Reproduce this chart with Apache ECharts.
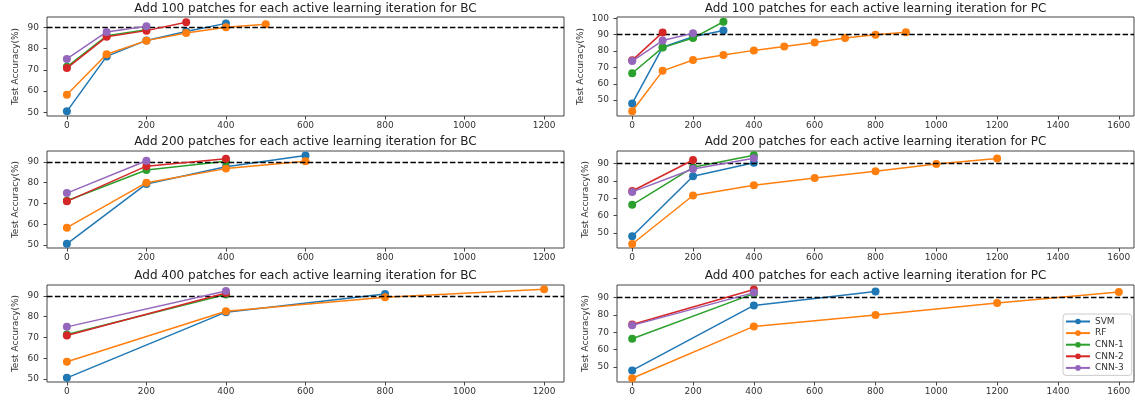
<!DOCTYPE html>
<html>
<head>
<meta charset="utf-8">
<script src="https://cdn.jsdelivr.net/npm/echarts@6/dist/echarts.min.js"></script>
<style>
  html, body { margin: 0; padding: 0; background: #fff; }
  #chart { width: 1135px; height: 402px; }
</style>
</head>
<body>
<div id="chart"></div>
<script>
const methods = ['SVM', 'RF', 'CNN-1', 'CNN-2', 'CNN-3']
const colors = ['#1f77b4', '#ff7f0e', '#2ca02c', '#d62728', '#9467bd']
const threshold = 90

// BC, 100 patches per iteration
const bc100X = [0, 100, 200, 300, 400, 500]
const bc100Svm = [50.5, 76.3, 83.8, 88.0, 91.8]
const bc100Rf = [58.3, 77.3, 83.7, 87.3, 90.0, 91.4]
const bc100Cnn1 = [71.4, 86.0, 88.8]
const bc100Cnn2 = [70.8, 85.5, 88.4, 92.3]
const bc100Cnn3 = [75.1, 87.8, 90.5]

// BC, 200 patches
const bc200X = [0, 200, 400, 600]
const bc200Svm = [50.5, 79.4, 87.7, 93.1]
const bc200Rf = [58.3, 80.0, 86.8, 90.4]
const bc200Cnn1 = [71.3, 86.1, 90.3]
const bc200Cnn2 = [71.0, 88.0, 91.6]
const bc200Cnn3 = [75.0, 90.6]

// BC, 400 patches
const bc400X = [0, 400, 800, 1200]
const bc400Svm = [50.5, 82.2, 91.0]
const bc400Rf = [58.3, 82.6, 89.4, 93.2]
const bc400Cnn1 = [71.4, 90.7]
const bc400Cnn2 = [70.9, 91.4]
const bc400Cnn3 = [75.1, 92.4]

// PC, 100 patches
const pc100X = [0, 100, 200, 300, 400, 500, 600, 700, 800, 900]
const pc100Svm = [48.0, 82.3, 88.7, 92.5]
const pc100Rf = [43.2, 67.9, 74.5, 77.6, 80.4, 82.7, 85.2, 87.9, 90.0, 91.5]
const pc100Cnn1 = [66.4, 82.1, 87.9, 97.9]
const pc100Cnn2 = [74.3, 91.4]
const pc100Cnn3 = [73.9, 86.4, 90.9]

// PC, 200 patches
const pc200X = [0, 200, 400, 600, 800, 1000, 1200]
const pc200Svm = [48.1, 82.7, 90.5]
const pc200Rf = [43.6, 71.6, 77.5, 81.7, 85.6, 89.8, 92.9]
const pc200Cnn1 = [66.2, 87.9, 94.8]
const pc200Cnn2 = [74.2, 92.1]
const pc200Cnn3 = [73.7, 86.9, 93.1]

// PC, 400 patches
const pc400X = [0, 400, 800, 1200, 1600]
const pc400Svm = [48.0, 85.5, 93.6]
const pc400Rf = [43.5, 73.4, 80.0, 86.9, 93.2]
const pc400Cnn1 = [66.3, 92.3]
const pc400Cnn2 = [74.5, 94.7]
const pc400Cnn3 = [74.0, 92.9]

const xTicksBC = [0, 200, 400, 600, 800, 1000, 1200]
const xTicksPC = [0, 200, 400, 600, 800, 1000, 1200, 1400, 1600]
const yTicks = [50, 60, 70, 80, 90]
const yTicksTop = [50, 60, 70, 80, 90, 100]

const panels = [
  { title: 'Add 100 patches for each active learning iteration for BC', x: bc100X,
    ys: [bc100Svm, bc100Rf, bc100Cnn1, bc100Cnn2, bc100Cnn3],
    xTicks: xTicksBC, yTicks: yTicks, xr: [-50, 1250], yr: [48.3, 94.8],
    pos: { left: 47, top: 17, width: 517, height: 99 }, titleTop: 3, nameGap: 27 },
  { title: 'Add 200 patches for each active learning iteration for BC', x: bc200X,
    ys: [bc200Svm, bc200Rf, bc200Cnn1, bc200Cnn2, bc200Cnn3],
    xTicks: xTicksBC, yTicks: yTicks, xr: [-50, 1250], yr: [48.5, 95.3],
    pos: { left: 47, top: 151, width: 517, height: 97 }, titleTop: 136, nameGap: 27 },
  { title: 'Add 400 patches for each active learning iteration for BC', x: bc400X,
    ys: [bc400Svm, bc400Rf, bc400Cnn1, bc400Cnn2, bc400Cnn3],
    xTicks: xTicksBC, yTicks: yTicks, xr: [-50, 1250], yr: [48.5, 95.3],
    pos: { left: 47, top: 285, width: 517, height: 97 }, titleTop: 270, nameGap: 27 },
  { title: 'Add 100 patches for each active learning iteration for PC', x: pc100X,
    ys: [pc100Svm, pc100Rf, pc100Cnn1, pc100Cnn2, pc100Cnn3],
    xTicks: xTicksPC, yTicks: yTicksTop, xr: [-50, 1650], yr: [40.3, 100.8],
    pos: { left: 617, top: 17, width: 517, height: 99 }, titleTop: 3, nameGap: 32 },
  { title: 'Add 200 patches for each active learning iteration for PC', x: pc200X,
    ys: [pc200Svm, pc200Rf, pc200Cnn1, pc200Cnn2, pc200Cnn3],
    xTicks: xTicksPC, yTicks: yTicks, xr: [-50, 1650], yr: [41.3, 97.3],
    pos: { left: 617, top: 151, width: 517, height: 97 }, titleTop: 136, nameGap: 27 },
  { title: 'Add 400 patches for each active learning iteration for PC', x: pc400X,
    ys: [pc400Svm, pc400Rf, pc400Cnn1, pc400Cnn2, pc400Cnn3],
    xTicks: xTicksPC, yTicks: yTicks, xr: [-50, 1650], yr: [41.3, 97.3],
    pos: { left: 617, top: 285, width: 517, height: 97 }, titleTop: 270, nameGap: 27 }
]

const font = 'DejaVu Sans'
const chart = echarts.init(document.getElementById('chart'), null, { renderer: 'canvas' })

const grid = panels.map(p => Object.assign({ show: true, borderColor: '#444', borderWidth: 1, backgroundColor: '#fff' }, p.pos))
const title = panels.map(p => ({
  text: p.title,
  left: p.pos.left + p.pos.width / 2,
  top: p.titleTop,
  textAlign: 'center',
  padding: 0,
  textStyle: { fontFamily: font, fontSize: 12, fontWeight: 'normal', color: '#222' }
}))
// onZero off, otherwise the y ticks sit at x = 0 inside the plot
const xAxis = panels.map((p, i) => ({
  type: 'value', gridIndex: i, min: p.xr[0], max: p.xr[1],
  axisLine: { show: false, onZero: false },
  splitLine: { show: false },
  axisTick: { show: true, length: 3.5, customValues: p.xTicks, lineStyle: { color: '#444' } },
  axisLabel: { customValues: p.xTicks, margin: 5, fontFamily: font, fontSize: 9, color: '#333',
    formatter: v => String(v) }
}))
const yAxis = panels.map((p, i) => ({
  type: 'value', gridIndex: i, min: p.yr[0], max: p.yr[1],
  name: 'Test Accuracy(%)', nameLocation: 'middle', nameGap: p.nameGap,
  nameTextStyle: { fontFamily: font, fontSize: 9, color: '#333' },
  axisLine: { show: false, onZero: false },
  splitLine: { show: false },
  axisTick: { show: true, length: 3.5, customValues: p.yTicks, lineStyle: { color: '#444' } },
  axisLabel: { customValues: p.yTicks, margin: 8, fontFamily: font, fontSize: 9, color: '#333',
    formatter: v => String(v) }
}))

const series = []
panels.forEach((p, i) => {
  p.ys.forEach((vals, m) => {
    const s = {
      name: methods[m],
      type: 'line',
      xAxisIndex: i,
      yAxisIndex: i,
      data: vals.map((v, k) => [p.x[k], v]),
      symbol: 'circle',
      symbolSize: 8,
      showAllSymbol: true,
      color: colors[m],
      lineStyle: { width: 1.5, color: colors[m] },
      itemStyle: { color: colors[m] },
      z: 2 + m
    }
    if (m === 0) {
      s.markLine = {
        silent: true,
        symbol: ['none', 'none'],
        label: { show: false },
        lineStyle: { color: '#000', type: [5.5, 2.4], width: 1.3 },
        data: [{ yAxis: threshold }]
      }
    }
    series.push(s)
  })
})

chart.setOption({
  animation: false,
  title: title,
  grid: grid,
  xAxis: xAxis,
  yAxis: yAxis,
  legend: {
    data: methods,
    orient: 'vertical',
    left: 1063,
    top: 314,
    itemWidth: 24,
    itemHeight: 7,
    itemGap: 2.6,
    padding: [3, 8, 3, 2],
    borderColor: '#ccc',
    borderWidth: 1,
    borderRadius: 3,
    backgroundColor: '#fff',
    textStyle: { fontFamily: font, fontSize: 9, color: '#333' }
  },
  series: series
})
</script>
</body>
</html>
